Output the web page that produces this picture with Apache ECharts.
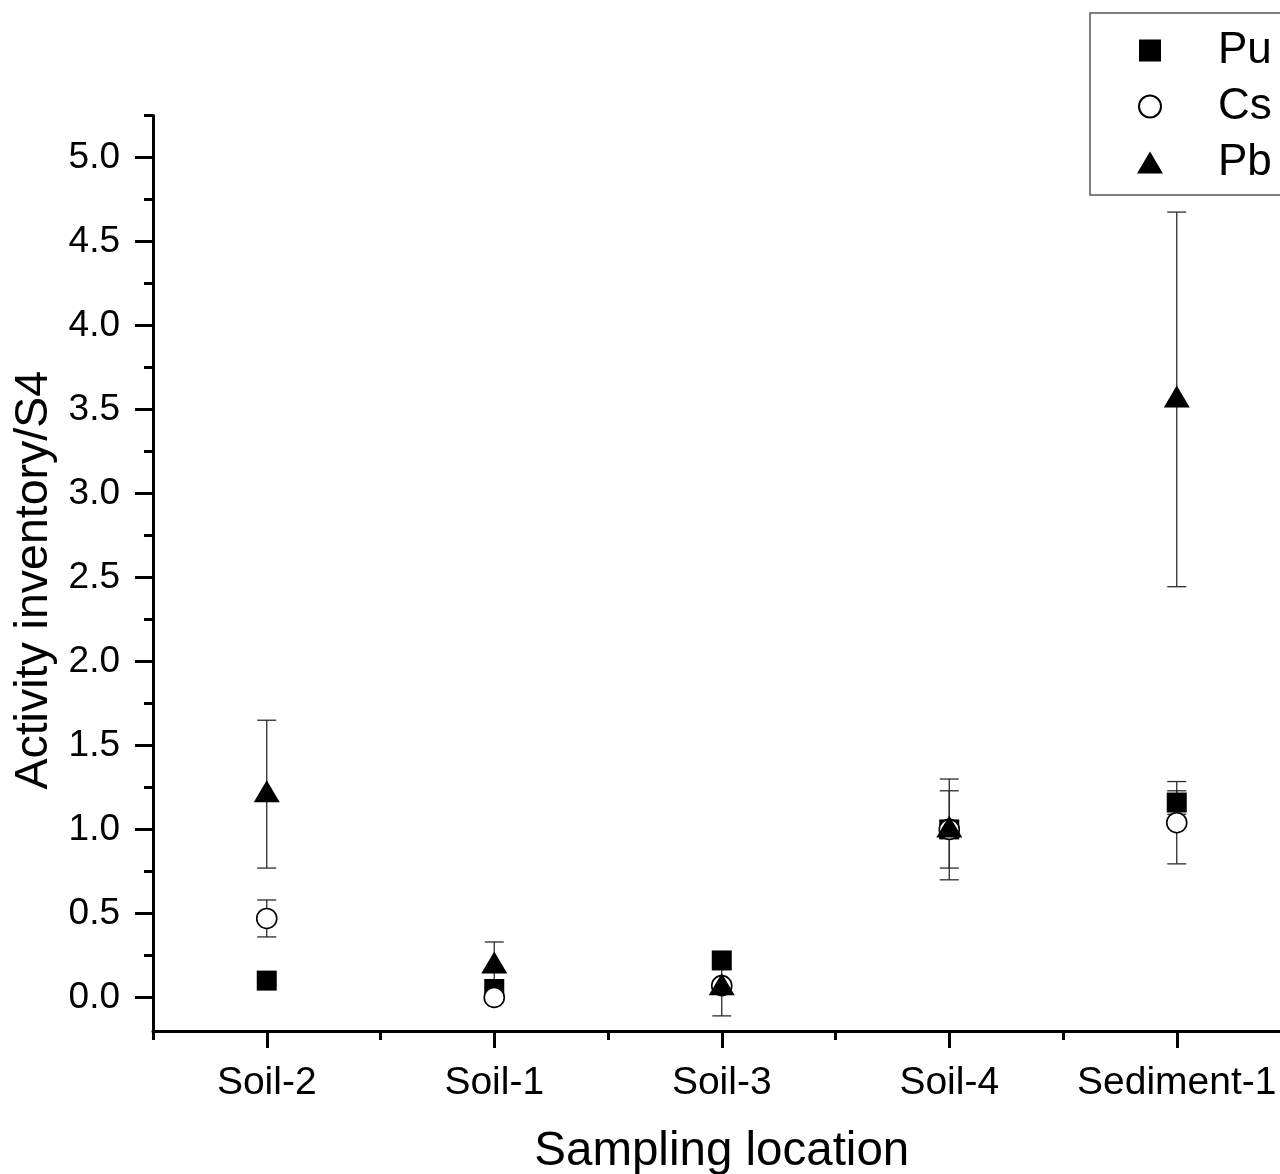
<!DOCTYPE html>
<html>
<head>
<meta charset="utf-8">
<title>Activity inventory by sampling location</title>
<script src="https://cdn.jsdelivr.net/npm/echarts@6/dist/echarts.min.js"></script>
<style>
  html, body { margin: 0; padding: 0; background: #fff; overflow: hidden; }
  /* the plot area runs slightly past the right edge of the window */
  #chart { width: 1300px; height: 1174px; }
</style>
</head>
<body>
<div id="chart"></div>
<script>
// Sampling locations (x categories)
const categories = ['Soil-2', 'Soil-1', 'Soil-3', 'Soil-4', 'Sediment-1'];

// Activity inventories normalised to S4, with one-sigma uncertainties
const puValues = [0.10, 0.05, 0.22, 1.00, 1.16];
const puErrors = [0.02, 0.01, 0.03, 0.05, 0.07];
const csValues = [0.47, 0.00, 0.07, 1.00, 1.04];
const csErrors = [0.11, 0.02, 0.03, 0.23, 0.245];
const pbValues = [1.21, 0.19, 0.06, 1.00, 3.56];
const pbErrors = [0.44, 0.14, 0.17, 0.30, 1.115];

// Y axis: labelled major ticks and unlabelled minor ticks
const yLabelValues = [0, 0.5, 1.0, 1.5, 2.0, 2.5, 3.0, 3.5, 4.0, 4.5, 5.0];
const yMinorTickValues = [0.25, 0.75, 1.25, 1.75, 2.25, 2.75, 3.25, 3.75, 4.25, 4.75, 5.25];
const yMin = -0.2;
const yMax = 5.25;

const FONT = '"Liberation Sans", Arial, Helvetica, sans-serif';
const INK = '#000';

// Vertical error bar with caps, drawn in data coordinates
function errorBars(name, values, errors) {
  return {
    type: 'custom',
    name: name + ' error',
    xAxisIndex: 0,
    yAxisIndex: 0,
    z: 3,
    silent: true,
    data: values.map((v, i) => [i, v - errors[i], v + errors[i]]),
    encode: { x: 0, y: [1, 2] },
    renderItem(params, api) {
      const idx = api.value(0);
      const low = api.coord([idx, api.value(1)]);
      const high = api.coord([idx, api.value(2)]);
      const x = low[0];
      const half = 9.5;
      const style = { stroke: '#2b2b2b', lineWidth: 1.3, fill: null };
      return {
        type: 'group',
        children: [
          { type: 'line', shape: { x1: x, y1: high[1], x2: x, y2: low[1] }, style },
          { type: 'line', shape: { x1: x - half, y1: high[1], x2: x + half, y2: high[1] }, style },
          { type: 'line', shape: { x1: x - half, y1: low[1], x2: x + half, y2: low[1] }, style }
        ]
      };
    }
  };
}

const chart = echarts.init(document.getElementById('chart'), null, { renderer: 'canvas' });

chart.setOption({
  animation: false,
  backgroundColor: '#fff',
  textStyle: { fontFamily: FONT, color: INK },
  grid: {
    left: 153, top: 115.5, right: 9.5, bottom: 143,
    containLabel: false,
    outerBoundsMode: 'none'
  },
  legend: {
    data: [
      { name: 'Pu', icon: 'path://M0,0L20,0L20,20L0,20Z' },
      { name: 'Cs', icon: 'circle' },
      { name: 'Pb', icon: 'triangle' }
    ],
    orient: 'vertical',
    left: 1090,
    top: 13,
    itemWidth: 26,
    itemHeight: 22,
    itemGap: 10,
    padding: [14.5, 40, 9.5, 47],
    borderColor: '#555',
    borderWidth: 1.5,
    selectedMode: false,
    textStyle: {
      fontFamily: FONT,
      fontSize: 44,
      color: INK,
      lineHeight: 46,
      padding: [0, 0, 0, 50]
    }
  },
  xAxis: [
    {
      type: 'category',
      data: categories,
      position: 'bottom',
      boundaryGap: true,
      name: 'Sampling location',
      nameLocation: 'middle',
      nameGap: 97,
      nameTextStyle: { fontFamily: FONT, fontSize: 47.5, color: INK },
      axisLine: { show: true, onZero: false, lineStyle: { color: INK, width: 3 } },
      axisTick: { show: true, alignWithLabel: true, interval: 0, length: 17, lineStyle: { color: INK, width: 3 } },
      axisLabel: { interval: 0, fontFamily: FONT, fontSize: 39, color: INK, margin: 33 },
      splitLine: { show: false }
    },
    {
      // boundary ticks between categories
      type: 'category',
      data: categories,
      position: 'bottom',
      boundaryGap: true,
      axisLine: { show: false, onZero: false },
      axisTick: { show: true, interval: 0, length: 9, lineStyle: { color: INK, width: 3 } },
      axisLabel: { show: false },
      splitLine: { show: false }
    }
  ],
  yAxis: [
    {
      type: 'value',
      position: 'left',
      min: yMin,
      max: yMax,
      name: 'Activity inventory/S4',
      nameLocation: 'middle',
      nameGap: 92,
      nameTextStyle: { fontFamily: FONT, fontSize: 46.5, color: INK, padding: [0, 14, 0, 0] },
      axisLine: { show: true, onZero: false, lineStyle: { color: INK, width: 3 } },
      axisTick: { show: true, customValues: yLabelValues, length: 18, lineStyle: { color: INK, width: 3 } },
      axisLabel: {
        customValues: yLabelValues,
        formatter: (v) => Number(v).toFixed(1),
        fontFamily: FONT, fontSize: 37, color: INK, margin: 33
      },
      splitLine: { show: false }
    },
    {
      // minor ticks
      type: 'value',
      position: 'left',
      min: yMin,
      max: yMax,
      axisLine: { show: false, onZero: false },
      axisTick: { show: true, customValues: yMinorTickValues, length: 9, lineStyle: { color: INK, width: 3 } },
      axisLabel: { show: false },
      splitLine: { show: false }
    }
  ],
  series: [
    errorBars('Pu', puValues, puErrors),
    errorBars('Cs', csValues, csErrors),
    errorBars('Pb', pbValues, pbErrors),
    {
      name: 'Pu',
      type: 'scatter',
      data: puValues,
      symbol: 'rect',
      symbolSize: 20,
      itemStyle: { color: INK, opacity: 1 },
      emphasis: { disabled: true },
      z: 4
    },
    {
      name: 'Cs',
      type: 'scatter',
      data: csValues,
      symbol: 'circle',
      symbolSize: 20,
      itemStyle: { color: '#fff', borderColor: INK, borderWidth: 1.6, opacity: 1 },
      emphasis: { disabled: true },
      z: 5
    },
    {
      name: 'Pb',
      type: 'scatter',
      data: pbValues,
      symbol: 'triangle',
      symbolSize: [26, 22],
      symbolOffset: [0, -3],
      itemStyle: { color: INK, opacity: 1 },
      emphasis: { disabled: true },
      z: 6
    }
  ]
});
</script>
</body>
</html>
